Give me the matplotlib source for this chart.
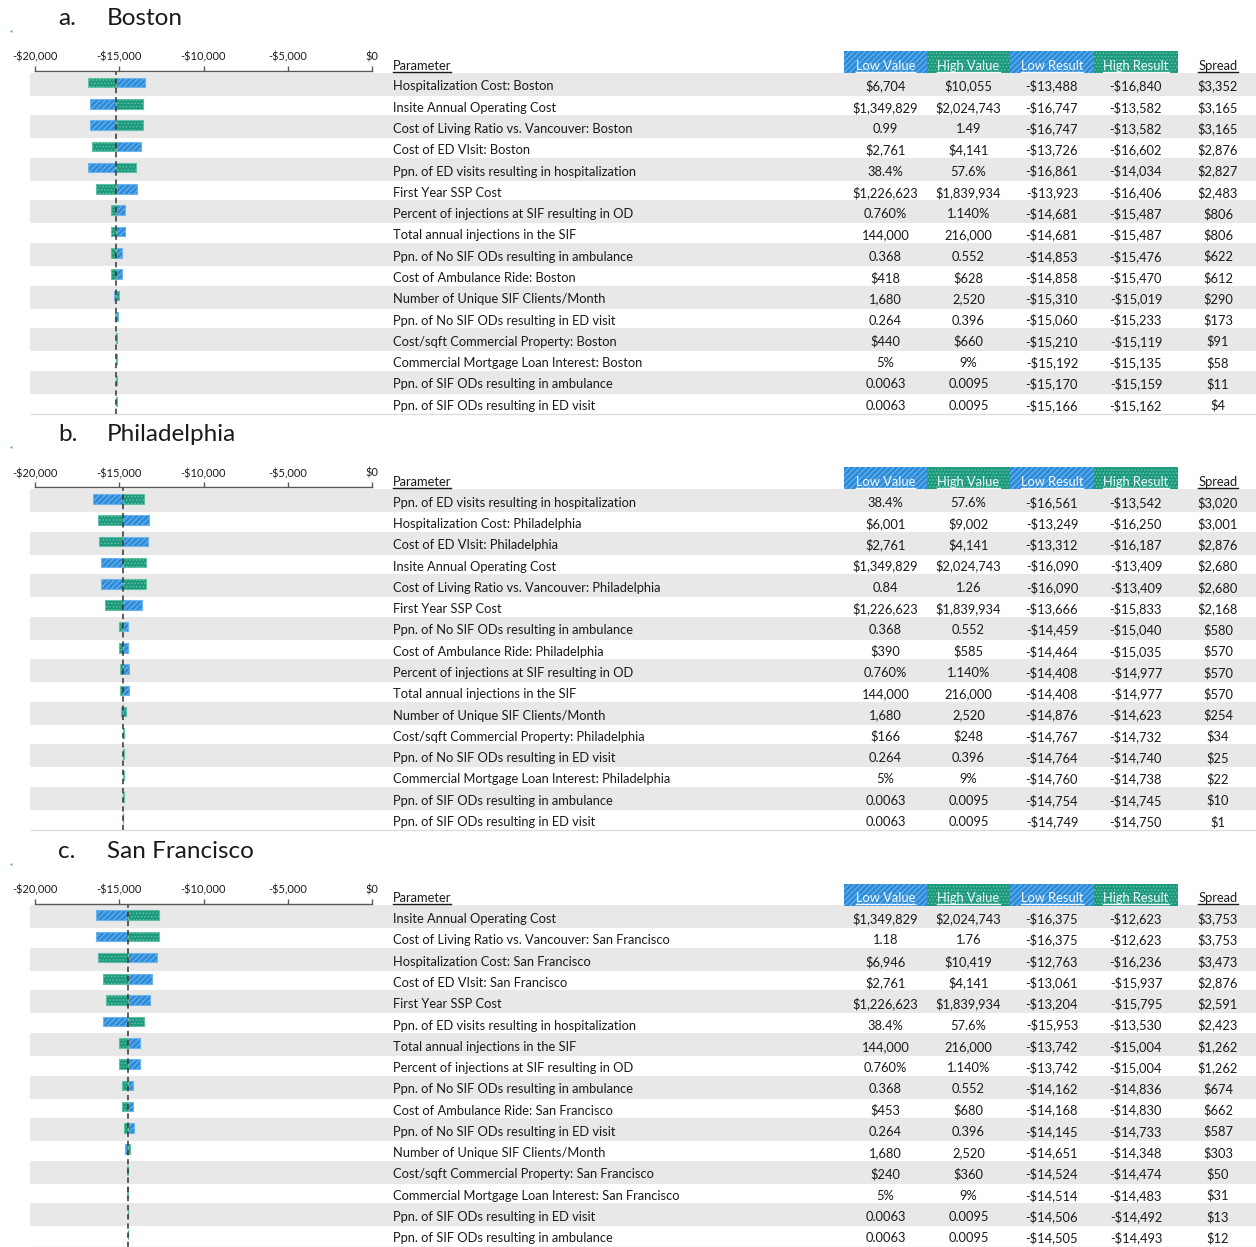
import matplotlib
matplotlib.use("Agg")
import matplotlib.pyplot as plt
from matplotlib.patches import Rectangle
from matplotlib.ticker import FuncFormatter

plt.rcParams['hatch.linewidth'] = 0.8

# ---------------- data ----------------
boston_params = ["Hospitalization Cost: Boston", "Insite Annual Operating Cost",
                 "Cost of Living Ratio vs. Vancouver: Boston", "Cost of ED VIsit: Boston",
                 "Ppn. of ED visits resulting in hospitalization", "First Year SSP Cost",
                 "Percent of injections at SIF resulting in OD", "Total annual injections in the SIF",
                 "Ppn. of No SIF ODs resulting in ambulance", "Cost of Ambulance Ride: Boston",
                 "Number of Unique SIF Clients/Month", "Ppn. of No SIF ODs resulting in ED visit",
                 "Cost/sqft Commercial Property: Boston", "Commercial Mortgage Loan Interest: Boston",
                 "Ppn. of SIF ODs resulting in ambulance", "Ppn. of SIF ODs resulting in ED visit"]
boston_low_val = ["$6,704", "$1,349,829", "0.99", "$2,761", "38.4%", "$1,226,623", "0.760%", "144,000",
                  "0.368", "$418", "1,680", "0.264", "$440", "5%", "0.0063", "0.0063"]
boston_high_val = ["$10,055", "$2,024,743", "1.49", "$4,141", "57.6%", "$1,839,934", "1.140%", "216,000",
                   "0.552", "$628", "2,520", "0.396", "$660", "9%", "0.0095", "0.0095"]
boston_low_res = [-13488, -16747, -16747, -13726, -16861, -13923, -14681, -14681,
                  -14853, -14858, -15310, -15060, -15210, -15192, -15170, -15166]
boston_high_res = [-16840, -13582, -13582, -16602, -14034, -16406, -15487, -15487,
                   -15476, -15470, -15019, -15233, -15119, -15135, -15159, -15162]
boston_spread = [3352, 3165, 3165, 2876, 2827, 2483, 806, 806, 622, 612, 290, 173, 91, 58, 11, 4]
boston_base = -15164

philly_params = ["Ppn. of ED visits resulting in hospitalization", "Hospitalization Cost: Philadelphia",
                 "Cost of ED VIsit: Philadelphia", "Insite Annual Operating Cost",
                 "Cost of Living Ratio vs. Vancouver: Philadelphia", "First Year SSP Cost",
                 "Ppn. of No SIF ODs resulting in ambulance", "Cost of Ambulance Ride: Philadelphia",
                 "Percent of injections at SIF resulting in OD", "Total annual injections in the SIF",
                 "Number of Unique SIF Clients/Month", "Cost/sqft Commercial Property: Philadelphia",
                 "Ppn. of No SIF ODs resulting in ED visit", "Commercial Mortgage Loan Interest: Philadelphia",
                 "Ppn. of SIF ODs resulting in ambulance", "Ppn. of SIF ODs resulting in ED visit"]
philly_low_val = ["38.4%", "$6,001", "$2,761", "$1,349,829", "0.84", "$1,226,623", "0.368", "$390",
                  "0.760%", "144,000", "1,680", "$166", "0.264", "5%", "0.0063", "0.0063"]
philly_high_val = ["57.6%", "$9,002", "$4,141", "$2,024,743", "1.26", "$1,839,934", "0.552", "$585",
                   "1.140%", "216,000", "2,520", "$248", "0.396", "9%", "0.0095", "0.0095"]
philly_low_res = [-16561, -13249, -13312, -16090, -16090, -13666, -14459, -14464,
                  -14408, -14408, -14876, -14767, -14764, -14760, -14754, -14749]
philly_high_res = [-13542, -16250, -16187, -13409, -13409, -15833, -15040, -15035,
                   -14977, -14977, -14623, -14732, -14740, -14738, -14745, -14750]
philly_spread = [3020, 3001, 2876, 2680, 2680, 2168, 580, 570, 570, 570, 254, 34, 25, 22, 10, 1]
philly_base = -14750

sf_params = ["Insite Annual Operating Cost", "Cost of Living Ratio vs. Vancouver: San Francisco",
             "Hospitalization Cost: San Francisco", "Cost of ED VIsit: San Francisco",
             "First Year SSP Cost", "Ppn. of ED visits resulting in hospitalization",
             "Total annual injections in the SIF", "Percent of injections at SIF resulting in OD",
             "Ppn. of No SIF ODs resulting in ambulance", "Cost of Ambulance Ride: San Francisco",
             "Ppn. of No SIF ODs resulting in ED visit", "Number of Unique SIF Clients/Month",
             "Cost/sqft Commercial Property: San Francisco", "Commercial Mortgage Loan Interest: San Francisco",
             "Ppn. of SIF ODs resulting in ED visit", "Ppn. of SIF ODs resulting in ambulance"]
sf_low_val = ["$1,349,829", "1.18", "$6,946", "$2,761", "$1,226,623", "38.4%", "144,000", "0.760%",
              "0.368", "$453", "0.264", "1,680", "$240", "5%", "0.0063", "0.0063"]
sf_high_val = ["$2,024,743", "1.76", "$10,419", "$4,141", "$1,839,934", "57.6%", "216,000", "1.140%",
               "0.552", "$680", "0.396", "2,520", "$360", "9%", "0.0095", "0.0095"]
sf_low_res = [-16375, -16375, -12763, -13061, -13204, -15953, -13742, -13742,
              -14162, -14168, -14145, -14651, -14524, -14514, -14506, -14505]
sf_high_res = [-12623, -12623, -16236, -15937, -15795, -13530, -15004, -15004,
               -14836, -14830, -14733, -14348, -14474, -14483, -14492, -14493]
sf_spread = [3753, 3753, 3473, 2876, 2591, 2423, 1262, 1262, 674, 662, 587, 303, 50, 31, 13, 12]
sf_base = -14499

panel_letters = ["a.", "b.", "c."]
panel_names = ["Boston", "Philadelphia", "San Francisco"]
x_ticks = [-20000, -15000, -10000, -5000, 0]
headers = ["Low Value", "High Value", "Low Result", "High Result"]

panels = [
    (boston_params, boston_low_val, boston_high_val, boston_low_res, boston_high_res, boston_spread, boston_base),
    (philly_params, philly_low_val, philly_high_val, philly_low_res, philly_high_res, philly_spread, philly_base),
    (sf_params, sf_low_val, sf_high_val, sf_low_res, sf_high_res, sf_spread, sf_base),
]

# ---------------- styling ----------------
W, H = 1256, 1247
FONT = "Lato"
FS = 9.3
BLUE, BLUE_H = "#2C8BD8", "#6DB4EC"
GREEN, GREEN_H = "#1A987C", "#5FC0A3"
GREY = "#E8E8E8"
TXT = "#1a1a1a"

fig = plt.figure(figsize=(W / 100, H / 100), dpi=100)
bg = fig.add_axes([0, 0, 1, 1], zorder=0)
bg.set_xlim(0, W)
bg.set_ylim(H, 0)
bg.axis("off")

PITCH = 21.28
OFFSETS = [0, 416.3, 832.6]
col_x = [885.5, 968.5, 1052, 1136, 1218]
box_edges = [844, 927, 1010, 1094, 1178]


def money(v):
    return "-${:,.0f}".format(abs(v)) if v < 0 else "${:,.0f}".format(v)


underlines = []

for p, (params, lv, hv, lr, hr, sp, base) in enumerate(panels):
    off = OFFSETS[p]
    n = len(params)
    # title
    bg.text(58, 25 + off, panel_letters[p], fontsize=17.5, family=FONT, color=TXT, va="baseline")
    bg.text(107, 25 + off, panel_names[p], fontsize=17.5, family=FONT, color=TXT, va="baseline")
    bg.plot(11, 31 + off, marker="s", ms=1.3, color="#3fa0e0", mew=0)

    # grey bands
    for i in range(0, n, 2):
        bg.add_patch(Rectangle((30, 72.7 + off + PITCH * i), W - 30, 23, color=GREY, lw=0, zorder=0))
    bg.plot([30, W], [414 + off, 414 + off], color="#DDDDDD", lw=1, zorder=1)

    # header
    hb = 69.5 + off
    t = bg.text(393, hb, "Parameter", fontsize=FS, family=FONT, color=TXT, va="baseline")
    underlines.append((t, hb, TXT))
    for k, h in enumerate(headers):
        col, hcol = (BLUE, BLUE_H) if k % 2 == 0 else (GREEN, GREEN_H)
        hatch = "//////" if k % 2 == 0 else "....."
        bg.add_patch(Rectangle((box_edges[k], 51 + off), box_edges[k + 1] - box_edges[k], 22,
                               facecolor=col, edgecolor=hcol, hatch=hatch, lw=0, zorder=1))
        t = bg.text(col_x[k], hb, h, fontsize=FS, family=FONT, color="#F4FAFF", ha="center",
                    va="baseline", zorder=3)
        underlines.append((t, hb, "#F4FAFF"))
    t = bg.text(col_x[4], hb, "Spread", fontsize=FS, family=FONT, color=TXT, ha="center", va="baseline")
    underlines.append((t, hb, TXT))

    # rows
    for i in range(n):
        yb = 90.5 + off + PITCH * i
        bg.text(393, yb, params[i], fontsize=FS, family=FONT, color=TXT, va="baseline")
        vals = [lv[i], hv[i], money(lr[i]), money(hr[i]), money(sp[i])]
        for k, s in enumerate(vals):
            bg.text(col_x[k], yb, s, fontsize=FS, family=FONT, color=TXT, ha="center", va="baseline")

    # tornado axes
    top_px, bot_px = 71 + off, 414 + off
    ax = fig.add_axes([35 / W, 1 - bot_px / H, 337 / W, (bot_px - top_px) / H], zorder=2)
    ax.patch.set_alpha(0)
    y0 = (71 - 82.5) / PITCH
    y1 = (414 - 82.5) / PITCH
    ax.set_ylim(y1, y0)
    ax.set_xlim(x_ticks[0], x_ticks[-1])
    ys = list(range(n))
    ax.barh(ys, [l - base for l in lr], left=base, height=0.45, color=BLUE,
            edgecolor=BLUE_H, hatch="//////", lw=0.8, zorder=2)
    ax.barh(ys, [h - base for h in hr], left=base, height=0.45, color=GREEN,
            edgecolor=GREEN_H, hatch=".....", lw=0.8, zorder=2)
    ax.axvline(base, color="#333333", lw=1.1, ls=(0, (3.5, 2.5)), zorder=3)
    for s in ["left", "right", "bottom"]:
        ax.spines[s].set_visible(False)
    ax.spines["top"].set_color("#595959")
    ax.spines["top"].set_linewidth(1.0)
    ax.spines["top"].set_zorder(5)
    ax.xaxis.tick_top()
    ax.set_xticks(x_ticks)
    ax.xaxis.set_major_formatter(FuncFormatter(lambda v, _: money(v)))
    ax.tick_params(axis="x", direction="out", length=3.5, width=1, color="#595959",
                   labelsize=7.9, labelcolor=TXT, pad=2.5)
    for lab in ax.get_xticklabels():
        lab.set_family(FONT)
    ax.set_yticks([])

# underlines
fig.canvas.draw()
r = fig.canvas.get_renderer()
for t, yb, c in underlines:
    bb = t.get_window_extent(renderer=r)
    bg.plot([bb.x0, bb.x1], [yb + 2, yb + 2], color=c, lw=1.0, zorder=4)

fig.savefig("out.png", dpi=100)
